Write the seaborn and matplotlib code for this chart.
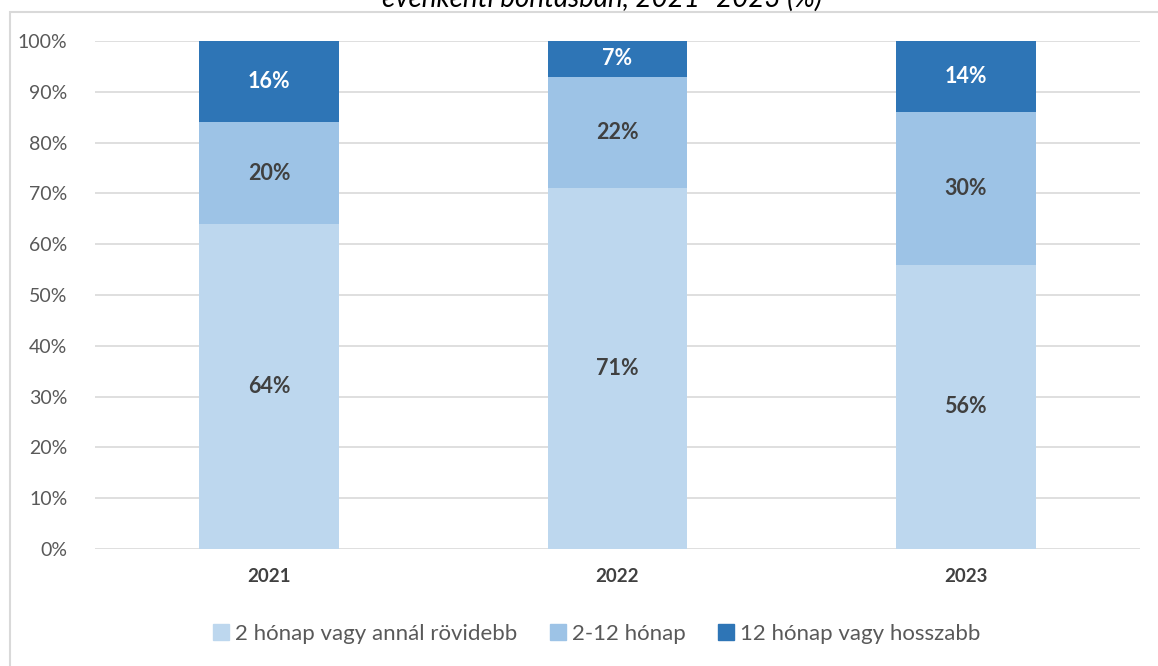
import matplotlib
matplotlib.use('Agg')
import matplotlib.pyplot as plt
import pandas as pd
import seaborn as sns
from matplotlib.lines import Line2D
from matplotlib.patches import Rectangle
from matplotlib.ticker import PercentFormatter

YEARS = ['2021', '2022', '2023']
SHORT = [64, 71, 56]      # 2 hónap vagy annál rövidebb
MID = [20, 22, 30]        # 2-12 hónap
LONG = [16, 7, 14]        # 12 hónap vagy hosszabb
SERIES = ['2 hónap vagy annál rövidebb', '2-12 hónap', '12 hónap vagy hosszabb']
COLORS = ['#BDD7EE', '#9DC3E6', '#2E75B6']
LABEL_COLORS = ['#404040', '#404040', 'white']
TITLE = 'évenkénti bontásban, 2021–2023 (%)'

sns.set_theme(style='white')
plt.rcParams['font.family'] = ['Lato', 'DejaVu Sans']

df = pd.DataFrame({'year': YEARS, SERIES[0]: SHORT, SERIES[1]: MID, SERIES[2]: LONG})

fig = plt.figure(figsize=(11.58, 6.66), dpi=100)
ax = fig.add_axes([95 / 1158, 1 - 549 / 666, 1045 / 1158, 508 / 666])

bottom = [0] * len(YEARS)
for name, color, lc in zip(SERIES, COLORS, LABEL_COLORS):
    vals = df[name].tolist()
    sns.barplot(data=df, x='year', y=name, color=color, width=0.40, bottom=bottom,
                saturation=1, linewidth=0, ax=ax, zorder=3)
    for i, v in enumerate(vals):
        ax.text(i, bottom[i] + v / 2, f'{v}%', ha='center', va='center',
                fontsize=15.5, fontweight='bold', color=lc, zorder=4)
    bottom = [b + v for b, v in zip(bottom, vals)]

ax.set_ylim(0, 100)
ax.set_xlim(-0.5, 2.5)
ax.set_yticks(range(0, 101, 10))
ax.yaxis.set_major_formatter(PercentFormatter(decimals=0))
ax.grid(axis='y', color='#D9D9D9', lw=1.2, zorder=0)
for s in ax.spines.values():
    s.set_visible(False)
ax.set_xlabel('')
ax.set_ylabel('')
ax.tick_params(axis='y', labelsize=14, labelcolor='#595959', length=0, pad=20)
ax.tick_params(axis='x', labelsize=13.5, labelcolor='#404040', length=0, pad=14)
for t in ax.get_xticklabels():
    t.set_fontweight('bold')

# outer chart frame (partly off-canvas)
fig.patches.append(Rectangle((10 / 1158, -0.05), 1.2, 1 - 12 / 666 + 0.05,
                             transform=fig.transFigure, fill=False,
                             edgecolor='#D9D9D9', lw=1.5, zorder=0))

fig.text(602 / 1158, 1 - 7 / 666, TITLE, ha='center', va='baseline', fontsize=20,
         style='italic', color='black')

handles = [Line2D([0], [0], marker='s', ls='', markersize=12, markerfacecolor=c,
                  markeredgecolor=c) for c in COLORS]
fig.legend(handles, SERIES, loc='center', bbox_to_anchor=(594 / 1158, 1 - 634 / 666),
           ncol=3, frameon=False, fontsize=16, labelcolor='#595959',
           handletextpad=0.05, columnspacing=1.2, handlelength=1.2)

fig.savefig('out.png', dpi=100)
